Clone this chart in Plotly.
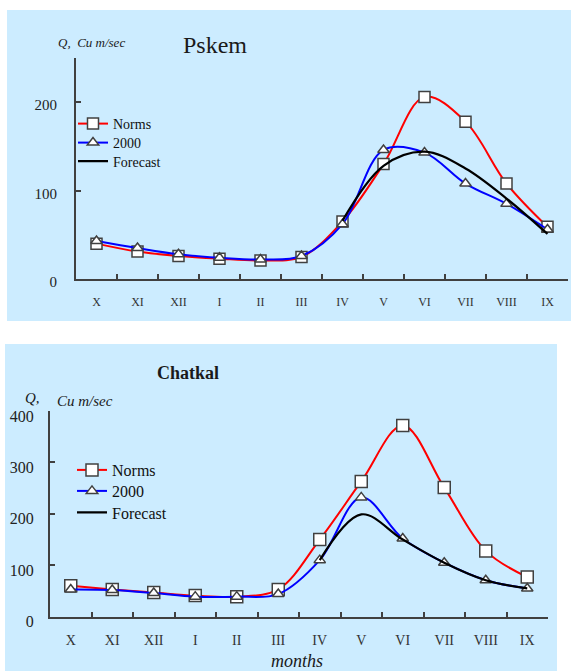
import plotly.graph_objects as go

# Monthly discharge, hydrological year October..September
months = ["X", "XI", "XII", "I", "II", "III", "IV", "V", "VI", "VII", "VIII", "IX"]
forecast_months = months[6:]

pskem_norms = [40, 31, 26, 23, 21, 25, 65, 130, 206, 178, 108, 59]
pskem_2000 = [43, 35, 28, 24, 22, 26, 62, 146, 143, 108, 85, 56]
pskem_forecast = [66, 128, 144, 125, 91, 51]

chatkal_norms = [60, 53, 47, 41, 39, 53, 150, 263, 372, 251, 128, 77]
chatkal_2000 = [53, 52, 46, 39, 39, 44, 110, 232, 152, 105, 71, 55]
chatkal_forecast = [110, 199, 150, 105, 71, 55]

W, H = 571, 671
SERIF = "Liberation Serif"
BG = "#CCECFF"
AXIS = "#404040"


def fx(p):
    return p / W


def fy(p):
    return 1 - p / H


fig = go.Figure()


def add_series(xa, ya, legends, norms, obs, fc, msq, mtri):
    fig.add_trace(go.Scatter(
        x=months, y=norms, name="Norms", mode="lines+markers",
        line=dict(color="#FF0000", width=2, shape="spline", smoothing=1),
        marker=dict(symbol="square", size=msq, color="white",
                    line=dict(color=AXIS, width=1.5)),
        xaxis=xa, yaxis=ya, legend=legends[0]))
    fig.add_trace(go.Scatter(
        x=months, y=obs, name="2000", mode="lines+markers",
        line=dict(color="#0000FF", width=2, shape="spline", smoothing=1),
        marker=dict(symbol="triangle-up", size=mtri, color="white",
                    line=dict(color=AXIS, width=1.5)),
        xaxis=xa, yaxis=ya, legend=legends[1]))
    fig.add_trace(go.Scatter(
        x=forecast_months, y=fc, name="Forecast", mode="lines",
        line=dict(color="black", width=2.2, shape="spline", smoothing=1),
        xaxis=xa, yaxis=ya, legend=legends[2]))


add_series("x", "y", ["legend", "legend2", "legend3"],
           pskem_norms, pskem_2000, pskem_forecast, 11, 10)
add_series("x2", "y2", ["legend4", "legend5", "legend6"],
           chatkal_norms, chatkal_2000, chatkal_forecast, 12, 10)

xcommon = dict(type="category", categoryorder="array", categoryarray=months,
               range=[-0.5, 11.5], tickson="boundaries", ticks="inside",
               ticklen=5, tickwidth=1.5, tickcolor=AXIS, showline=True,
               linecolor=AXIS, linewidth=2, showgrid=False, zeroline=False,
               automargin=False)
ycommon = dict(ticks="inside", ticklen=5, tickwidth=1.5, tickcolor=AXIS,
               showline=True, linecolor=AXIS, linewidth=2, showgrid=False,
               zeroline=False, automargin=False)


def note(text, x, y, size, xanchor="center"):
    return dict(text=text, x=fx(x), y=fy(y), xref="paper", yref="paper",
                xanchor=xanchor, yanchor="middle", showarrow=False,
                font=dict(size=size, family=SERIF, color="#1a1a1a"))


def legend_box(x, y, size):
    return dict(x=fx(x), y=fy(y), xanchor="left", yanchor="middle",
                bgcolor="rgba(0,0,0,0)", itemwidth=30, borderwidth=0,
                font=dict(size=size, family=SERIF, color="#111111"))


fig.update_layout(
    width=W, height=H,
    margin=dict(l=0, r=0, t=0, b=0, autoexpand=False),
    paper_bgcolor="white", plot_bgcolor="rgba(0,0,0,0)",
    font=dict(family=SERIF, color="#222222"),
    xaxis=dict(**xcommon, domain=[fx(76), fx(568)], anchor="y",
               tickfont=dict(size=12, family=SERIF, color="#333333"),
               ticklabelstandoff=11),
    yaxis=dict(**ycommon, domain=[fy(279), fy(58)], range=[0, 250],
               tickvals=[0, 100, 200], anchor="x",
               tickfont=dict(size=15, family=SERIF, color="#222222"),
               ticklabelstandoff=14, ticklabelshift=3),
    xaxis2=dict(**xcommon, domain=[fx(50), fx(548)], anchor="y2",
                tickfont=dict(size=14, family=SERIF, color="#333333"),
                ticklabelstandoff=9),
    yaxis2=dict(**ycommon, domain=[fy(616.7), fy(411)], range=[0, 400],
                tickvals=[0, 100, 200, 300, 400], anchor="x2",
                tickfont=dict(size=16, family=SERIF, color="#222222"),
                ticklabelstandoff=11, ticklabelshift=5),
    legend=legend_box(73, 124, 14),
    legend2=legend_box(73, 143, 14),
    legend3=legend_box(73, 161.5, 14),
    legend4=legend_box(72, 470, 16),
    legend5=legend_box(72, 491, 16),
    legend6=legend_box(72, 512.5, 16),
    showlegend=True,
    shapes=[
        dict(type="rect", xref="paper", yref="paper", x0=fx(7), x1=1,
             y0=fy(321), y1=fy(10), fillcolor=BG, line=dict(width=0),
             layer="below"),
        dict(type="rect", xref="paper", yref="paper", x0=fx(5), x1=fx(557),
             y0=0, y1=fy(344), fillcolor=BG, line=dict(width=0),
             layer="below"),
    ],
    annotations=[
        note("Pskem", 215, 45, 24),
        note("<i>Q,  Cu m/sec</i>", 56, 42, 13, "left"),
        note("<b>Chatkal</b>", 188, 373, 18),
        note("<i>Q,</i>", 23, 398, 15, "left"),
        note("<i>Cu m/sec</i>", 55, 401, 15, "left"),
        note("<i>months</i>", 297, 661, 18),
    ],
)

fig.write_html("out.html")
